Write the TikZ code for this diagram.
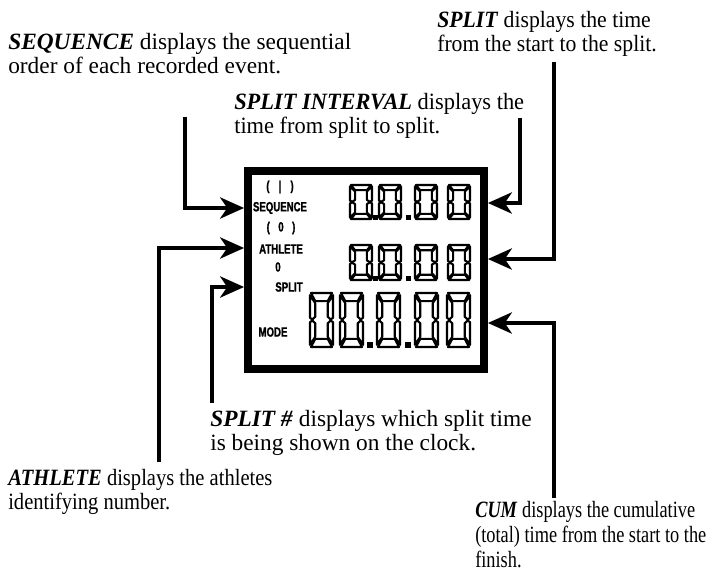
\documentclass[tikz,border=0pt]{standalone}
\usepackage{fontspec}
\setmainfont{Liberation Serif}
\newfontfamily\notenarrow[FakeStretch=0.93]{Liberation Serif}
\newfontfamily\notemid[FakeStretch=0.96]{Liberation Serif}
\newfontfamily\noteslim[FakeStretch=0.88]{Liberation Serif}
\newfontfamily\notethin[FakeStretch=0.785]{Liberation Serif}
\newfontfamily\lcdfont[FakeStretch=0.72, BoldFeatures={FakeBold=1.2}]{Liberation Sans}
\usepackage{tikz}
\usetikzlibrary{arrows.meta, positioning}

\begin{document}
\begin{tikzpicture}[
  x=0.025cm, y=-0.025cm,
  note/.style={anchor=north west, inner sep=0pt, align=left,
               font=\fontsize{16.6}{17}\selectfont},
  tag/.style={inner sep=0pt, font=\lcdfont\bfseries\fontsize{9.5}{10}\selectfont},
  lcdbox/.style={rectangle, draw, line width=5.5pt,
                 minimum width=5.9cm, minimum height=4.95cm},
  seg/.style={draw, fill=white, line width=1.5pt, line join=round},
  dot/.style={fill=black},
  arr/.style={line width=3.5pt, -{Stealth[length=17pt, width=15pt, inset=5pt]}},
  lcddigit/.pic={
    \filldraw[seg] (0.04,0) -- (0.96,0) -- (0.77,0.15) -- (0.23,0.15) -- cycle;
    \filldraw[seg] (0.04,1) -- (0.96,1) -- (0.77,0.85) -- (0.23,0.85) -- cycle;
    \filldraw[seg] (0,0.04) -- (0.23,0.19) -- (0.23,0.44) -- (0.1,0.49) -- (0,0.46) -- cycle;
    \filldraw[seg] (0,0.54) -- (0.1,0.51) -- (0.23,0.56) -- (0.23,0.81) -- (0,0.96) -- cycle;
    \filldraw[seg] (1,0.04) -- (0.77,0.19) -- (0.77,0.44) -- (0.9,0.49) -- (1,0.46) -- cycle;
    \filldraw[seg] (1,0.54) -- (0.9,0.51) -- (0.77,0.56) -- (0.77,0.81) -- (1,0.96) -- cycle;
  }
]
\useasboundingbox (0,0) rectangle (711,578);
%% display frame
\node[lcdbox] (lcd) at (366,270) {};
%% small labels on the display
\node[tag] (t_seqn)  at (280,187) {(\hspace{6.5pt}|\hspace{6.5pt})};
\node[tag] (t_seq)   at (280,208) {SEQUENCE};
\node[tag] (t_athn)  at (281,228) {(\hspace{6pt}0\hspace{6pt})};
\node[tag] (t_ath)   at (281,249) {ATHLETE};
\node[tag] (t_splnr) at (278,267) {0};
\node[tag] (t_spl)   at (289,287) {SPLIT};
\node[tag] (t_mode)  at (273,332) {MODE};
%% row 1: split interval
\pic[xscale=22, yscale=34] at (350,185) {lcddigit};
\pic[xscale=22, yscale=34] at (379,185) {lcddigit};
\pic[xscale=22, yscale=34] at (415,185) {lcddigit};
\pic[xscale=22, yscale=34] at (448,185) {lcddigit};
\fill[dot] (373,215) rectangle (378,220);
\fill[dot] (406,215) rectangle (411,220);
%% row 2: split
\pic[xscale=22, yscale=35] at (350,245) {lcddigit};
\pic[xscale=22, yscale=35] at (379,245) {lcddigit};
\pic[xscale=22, yscale=35] at (415,245) {lcddigit};
\pic[xscale=22, yscale=35] at (448,245) {lcddigit};
\fill[dot] (373,276) rectangle (378,281);
\fill[dot] (406,276) rectangle (411,281);
%% row 3: cumulative
\pic[xscale=23, yscale=54] at (310,293) {lcddigit};
\pic[xscale=23, yscale=54] at (340,293) {lcddigit};
\pic[xscale=23, yscale=54] at (377,293) {lcddigit};
\pic[xscale=23, yscale=54] at (415,293) {lcddigit};
\pic[xscale=23, yscale=54] at (447,293) {lcddigit};
\fill[dot] (367,342) rectangle (373,348);
\fill[dot] (405,342) rectangle (411,348);
%% notes
\node[note] (n_seq) at (8,33)
  {\textbf{\textit{SEQUENCE}} displays the sequential\\order of each recorded event.};
\node[note, font=\notenarrow\fontsize{16.6}{17}\selectfont] (n_split) at (437,11)
  {\textbf{\textit{SPLIT}} displays the time\\from the start to the split.};
\node[note, font=\notemid\fontsize{16.6}{17}\selectfont] (n_int) at (234,93)
  {\textbf{\textit{SPLIT INTERVAL}} displays the\\time from split to split.};
\node[note] (n_nr) at (210,410)
  {\textbf{\textit{SPLIT \#}} displays which split time\\is being shown on the clock.};
\node[note, font=\noteslim\fontsize{16.6}{17}\selectfont] (n_ath) at (8,469)
  {\textbf{\textit{ATHLETE}} displays the athletes\\identifying number.};
\node[note, font=\notethin\fontsize{16.6}{17.8}\selectfont] (n_cum) at (475,501)
  {\textbf{\textit{CUM}} displays the cumulative\\(total) time from the start to the\\finish.};
%% line ends
\coordinate (seq_top) at (185,117);
\coordinate (ath_bot) at (159,462);
\coordinate (nr_bot)  at (212,403);
\coordinate (int_top) at (520,118);
\coordinate (spl_top) at (554,62);
\coordinate (cum_bot) at (554,498);
\coordinate (seq_in) at (lcd.west |- 0,208);
\coordinate (ath_in) at (lcd.west |- 0,248);
\coordinate (nr_in)  at (lcd.west |- 0,287);
\coordinate (int_in) at (lcd.east |- 0,203);
\coordinate (spl_in) at (lcd.east |- 0,259);
\coordinate (cum_in) at (lcd.east |- 0,323);
%% arrows
\draw[arr] (seq_top) |- (seq_in);
\draw[arr] (ath_bot) |- (ath_in);
\draw[arr] (nr_bot)  |- (nr_in);
\draw[arr] (int_top) |- (int_in);
\draw[arr] (spl_top) |- (spl_in);
\draw[arr] (cum_bot) |- (cum_in);
\end{tikzpicture}
\end{document}
